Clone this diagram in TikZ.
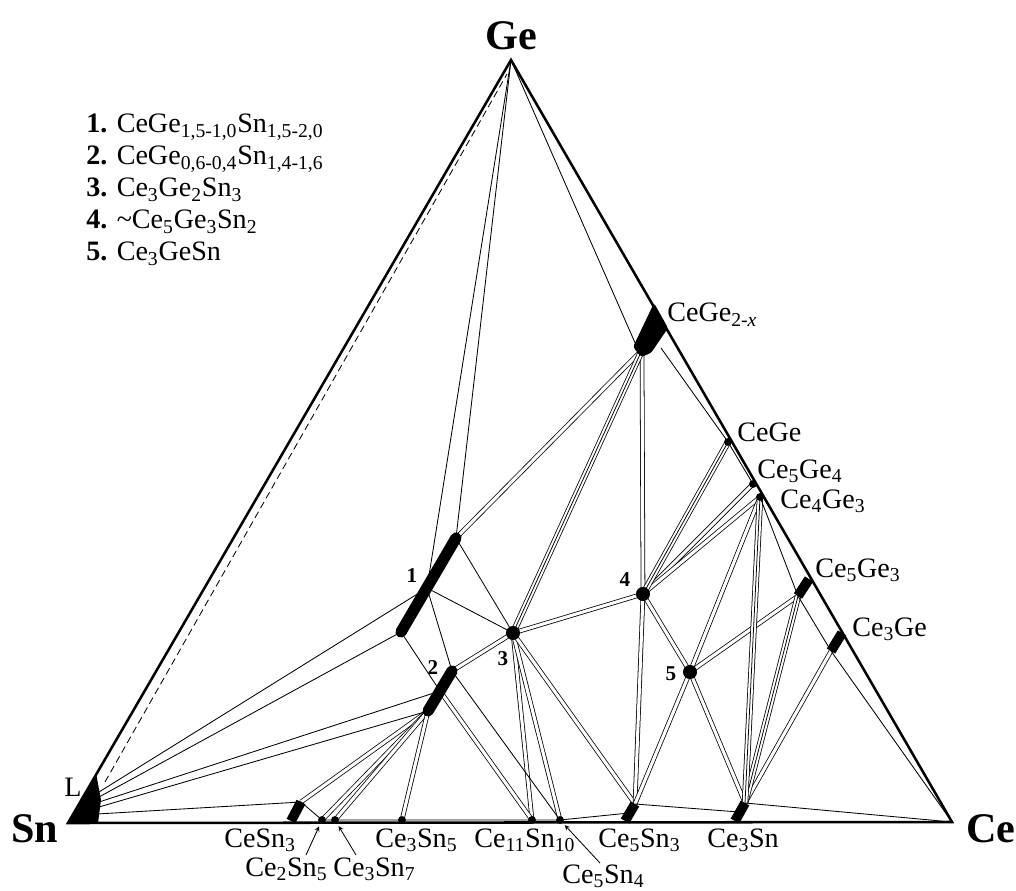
\documentclass[tikz,border=0pt]{standalone}
\usepackage{fontspec}
\setmainfont{Liberation Serif}
\begin{document}
\begin{tikzpicture}[
  x=0.025cm,y=-0.025cm,
  edge/.style={line width=1.8pt, line join=miter},
  tie/.style={line width=0.6pt},
  band/.style={line width=0.55pt, double, double distance=2.2pt},
  tband/.style={preaction={draw, line width=0.55pt, double, double distance=3.4pt}, line width=0.55pt},
  bar/.style={line width=8pt, line cap=round},
  stub/.style={line width=7pt},
  dot/.style={fill=black},
  pointer/.style={line width=0.6pt, -stealth, shorten >=5pt},
  phase/.style={font=\fontsize{20}{24}\selectfont, inner sep=0pt, anchor=base west},
  legend/.style={font=\fontsize{20}{24}\selectfont, inner sep=0pt, anchor=base west},
  num/.style={font=\fontsize{15}{18}\selectfont\bfseries, inner sep=0pt},
  vertex/.style={font=\fontsize{30}{34}\selectfont\bfseries, inner sep=0pt}
]
\useasboundingbox (0,0) rectangle (1016,891);

% corners
\coordinate (Sn) at (68,823);
\coordinate (Ge) at (511,60);
\coordinate (Ce) at (952,822);

% liquid near Sn
\coordinate (Lt) at (96,773);
\coordinate (L1) at (99,792);
\coordinate (L2) at (99,797);
\coordinate (L3) at (99,802);
\coordinate (L4) at (99,807);
\coordinate (L5) at (97,814);
\coordinate (dashA) at (105,782);
\coordinate (dashB) at (507,74);

% Ce-Sn side
\coordinate (CeSn3b) at (291,821);
\coordinate (CeSn3) at (301,802);
\coordinate (Ce2Sn5) at (322,820);
\coordinate (Ce3Sn7) at (335,820);
\coordinate (Ce3Sn5) at (402,820);
\coordinate (Ce11Sn10) at (532,820);
\coordinate (Ce5Sn4) at (560,820);
\coordinate (Ce5Sn3b) at (625,821);
\coordinate (Ce5Sn3m) at (629,813);
\coordinate (Ce5Sn3) at (635,804);
\coordinate (Ce3Snb) at (735,821);
\coordinate (Ce3Snm) at (739,812);
\coordinate (Ce3Sn) at (745,803);

% Ce-Ge side
\coordinate (CeGe2x) at (642,350);
\coordinate (CeGe2xl) at (636,345);
\coordinate (CeGe2xr) at (661,348);
\coordinate (CeGe) at (728,442);
\coordinate (Ce5Ge4) at (753,484);
\coordinate (Ce4Ge3) at (760,497);
\coordinate (Ce5Ge3e) at (809,579);
\coordinate (Ce5Ge3) at (798,596);
\coordinate (Ce3Gee) at (842,633);
\coordinate (Ce3Ge) at (831,651);

% ternary phases
\coordinate (T1b) at (401,632);
\coordinate (T1m) at (427,588);
\coordinate (T1t) at (456,538);
\coordinate (T2b) at (428,711);
\coordinate (T2m) at (440,691);
\coordinate (T2t) at (452,671);
\coordinate (T3) at (513,633);
\coordinate (T4) at (643,594);
\coordinate (T5) at (690,672);

% two-phase bands
\draw[band] (T1t) -- (CeGe2x);
\draw[band] (T3) -- (T4);
\draw[band] (T3) -- (T2t);
\draw[band] (T3) -- (Ce11Sn10);
\draw[band] (T3) -- (Ce5Sn4);
\draw[band] (T3) -- (Ce5Sn3);
\draw[band] (T2m) -- (Ce11Sn10);
\draw[band] (T2b) -- (CeSn3);
\draw[band] (T2b) -- (Ce2Sn5);
\draw[band] (T2b) -- (Ce3Sn7);
\draw[band] (T2b) -- (Ce3Sn5);
\draw[band] (T4) -- (CeGe2x);
\draw[band] (T4) -- (Ce5Ge4);
\draw[band] (T4) -- (Ce4Ge3);
\draw[band] (T4) -- (Ce5Sn3);
\draw[band] (T4) -- (T5);
\draw[band] (T5) -- (Ce5Sn3);
\draw[band] (T5) -- (Ce3Sn);
\draw[band] (T5) -- (Ce5Ge3);
\draw[band] (T5) -- (Ce4Ge3);
\draw[band] (Ce3Sn) -- (Ce3Ge);
\draw[tband] (T3) -- (CeGe2x);
\draw[tband] (T4) -- (CeGe);
\draw[tband] (Ce3Sn) -- (Ce5Ge3);
\draw[tband] (Ce3Sn) -- (Ce4Ge3);

% tie lines
\draw[tie] (Ge) -- (CeGe2xl);
\draw[tie] (Ge) -- (T1m);
\draw[tie] (Ge) -- (T1t);
\draw[tie] (CeGe2xr) -- (CeGe) -- (Ce5Ge4);
\draw[tie] (Ce4Ge3) -- (Ce5Ge3) -- (Ce3Ge) -- (Ce);
\draw[tie] (L1) -- (T1m);
\draw[tie] (L2) -- (T1b);
\draw[tie] (L3) -- (T2m);
\draw[tie] (L4) -- (T2b);
\draw[tie] (L5) -- (CeSn3) -- (Ce2Sn5);
\draw[tie] (Ce2Sn5) -- (Ce11Sn10) -- (Ce5Sn4) -- (Ce5Sn3m);
\draw[tie] (Ce5Sn3) -- (Ce3Snm);
\draw[tie] (Ce3Sn) -- (Ce);
\draw[tie] (T1b) -- (T2m);
\draw[tie] (T1m) -- (T3);
\draw[tie] (T1t) -- (T3);
\draw[tie] (T1m) -- (T2t);
\draw[tie] (T2t) -- (Ce5Sn4);
\draw[tie, dashed, dash pattern=on 5pt off 3pt] (dashA) -- (dashB);

% sides
\draw[edge] (Sn) -- (Ge) -- (Ce) -- cycle;

% phases
\fill (Sn) -- (Lt) -- (101,800) -- (98,823) -- cycle;
\fill[rounded corners=2pt] (654,303) -- (668,328) -- (651,353) -- (641,357) -- (633,347) -- cycle;
\draw[bar] (T1b) -- (T1t);
\draw[bar] (T2b) -- (T2t);
\draw[stub] (CeSn3b) -- (CeSn3);
\draw[stub] (Ce5Sn3b) -- (Ce5Sn3);
\draw[stub] (Ce3Snb) -- (Ce3Sn);
\draw[stub] (Ce5Ge3e) -- (Ce5Ge3);
\draw[stub] (Ce3Gee) -- (Ce3Ge);
\fill[dot] (T3) circle (5pt);
\fill[dot] (T4) circle (5pt);
\fill[dot] (T5) circle (5pt);
\fill[dot] (Ce2Sn5) circle (2.8pt);
\fill[dot] (Ce3Sn7) circle (2.8pt);
\fill[dot] (Ce3Sn5) circle (2.8pt);
\fill[dot] (Ce11Sn10) circle (2.8pt);
\fill[dot] (Ce5Sn4) circle (2.8pt);
\fill[dot] (CeGe) circle (2.8pt);
\fill[dot] (Ce5Ge4) circle (2.8pt);
\fill[dot] (Ce4Ge3) circle (2.8pt);

% labels
\node[vertex] (lGe) at (511,36) {Ge};
\node[vertex] (lSn) at (35,829) {Sn};
\node[vertex] (lCe) at (991,829) {Ce};
\node[phase] (lL) at (64,796) {L};

\node[num] (n1) at (412,576) {1};
\node[num] (n2) at (433,668) {2};
\node[num] (n3) at (503,659) {3};
\node[num] (n4) at (625,580) {4};
\node[num] (n5) at (671,674) {5};

\node[phase] (lCeGe2x)   at (667,322) {CeGe\textsubscript{2-\textit{x}}};
\node[phase] (lCeGe)     at (737,441) {CeGe};
\node[phase] (lCe5Ge4)   at (757,478) {Ce\textsubscript{5}Ge\textsubscript{4}};
\node[phase] (lCe4Ge3)   at (780,508) {Ce\textsubscript{4}Ge\textsubscript{3}};
\node[phase] (lCe5Ge3)   at (815,577) {Ce\textsubscript{5}Ge\textsubscript{3}};
\node[phase] (lCe3Ge)    at (852,636) {Ce\textsubscript{3}Ge};
\node[phase] (lCeSn3)    at (224,847) {CeSn\textsubscript{3}};
\node[phase] (lCe2Sn5)   at (245,876) {Ce\textsubscript{2}Sn\textsubscript{5}};
\node[phase] (lCe3Sn7)   at (333,876) {Ce\textsubscript{3}Sn\textsubscript{7}};
\node[phase] (lCe3Sn5)   at (375,847) {Ce\textsubscript{3}Sn\textsubscript{5}};
\node[phase] (lCe11Sn10) at (474,847) {Ce\textsubscript{11}Sn\textsubscript{10}};
\node[phase] (lCe5Sn3)   at (598,847) {Ce\textsubscript{5}Sn\textsubscript{3}};
\node[phase] (lCe5Sn4)   at (562,883) {Ce\textsubscript{5}Sn\textsubscript{4}};
\node[phase] (lCe3Sn)    at (707,847) {Ce\textsubscript{3}Sn};

\coordinate (pCe2Sn5) at (306,855);
\coordinate (pCe3Sn7) at (356,855);
\coordinate (pCe5Sn4) at (600,863);
\draw[pointer] (pCe2Sn5) -- (Ce2Sn5);
\draw[pointer] (pCe3Sn7) -- (Ce3Sn7);
\draw[pointer] (pCe5Sn4) -- (Ce5Sn4);

\node[legend] (leg1) at (86,133) {\textbf{1.} CeGe\textsubscript{1,5-1,0}Sn\textsubscript{1,5-2,0}};
\node[legend] (leg2) at (86,165) {\textbf{2.} CeGe\textsubscript{0,6-0,4}Sn\textsubscript{1,4-1,6}};
\node[legend] (leg3) at (86,197) {\textbf{3.} Ce\textsubscript{3}Ge\textsubscript{2}Sn\textsubscript{3}};
\node[legend] (leg4) at (86,229) {\textbf{4.} \textasciitilde Ce\textsubscript{5}Ge\textsubscript{3}Sn\textsubscript{2}};
\node[legend] (leg5) at (86,261) {\textbf{5.} Ce\textsubscript{3}GeSn};
\end{tikzpicture}
\end{document}
